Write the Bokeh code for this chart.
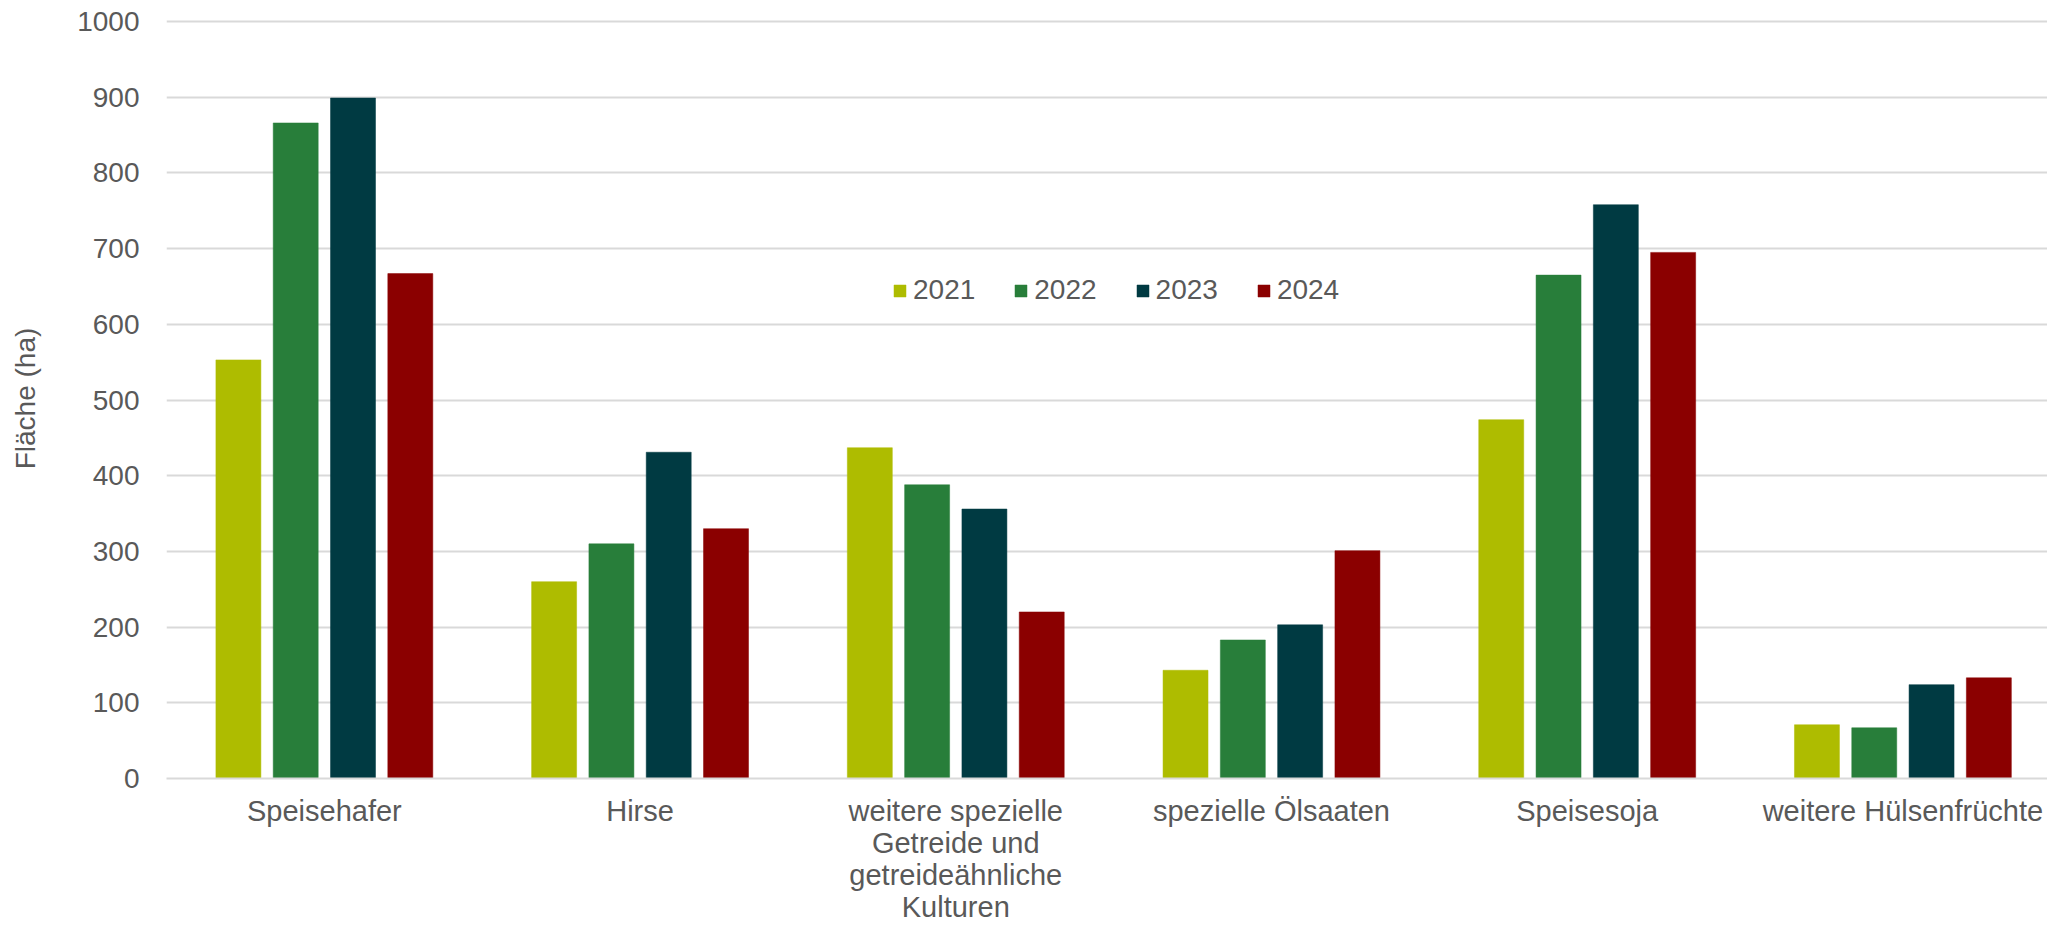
from bokeh.plotting import figure
from bokeh.models import ColumnDataSource, Range1d, FixedTicker, SingleIntervalTicker, Legend, LegendItem
from bokeh.transform import dodge
from bokeh.embed import file_html
from bokeh.resources import INLINE

categories = ["Speisehafer", "Hirse", "weitere spezielle\nGetreide und\ngetreideähnliche\nKulturen",
              "spezielle Ölsaaten", "Speisesoja", "weitere Hülsenfrüchte"]
years = ["2021", "2022", "2023", "2024"]
v2021 = [553, 260, 437, 143, 474, 71]
v2022 = [866, 310, 388, 183, 665, 67]
v2023 = [899, 431, 356, 203, 758, 124]
v2024 = [667, 330, 220, 301, 695, 133]
colors = ["#AEBC00", "#287E3A", "#003A42", "#8B0000"]
y_ticks_max = 1000

FONT = "Liberation Sans"
TXT = "#595959"
GRID = "#D9D9D9"

centers = [i + 0.5 for i in range(len(categories))]
src = ColumnDataSource(dict(x=centers, y2021=v2021, y2022=v2022, y2023=v2023, y2024=v2024))

p = figure(width=2047, height=925, output_backend="svg", toolbar_location=None,
           x_range=Range1d(0, 5.958), y_range=Range1d(0, y_ticks_max + 4))
p.min_border_left = 166
p.min_border_right = 0
p.min_border_top = 18
p.min_border_bottom = 100
p.outline_line_color = None
p.background_fill_color = "white"
p.border_fill_color = "white"

pitch = 0.1815
bw = 0.1425
offsets = [-1.5 * pitch, -0.5 * pitch, 0.5 * pitch, 1.5 * pitch]
fields = ["y2021", "y2022", "y2023", "y2024"]
renderers = []
for f, off, c in zip(fields, offsets, colors):
    r = p.vbar(x=dodge("x", off), top=f, width=bw, bottom=0, source=src,
               fill_color=c, line_color=c, line_width=0.5)
    renderers.append(r)

# axes
p.xaxis.ticker = FixedTicker(ticks=centers)
p.xaxis.major_label_overrides = {c: lab for c, lab in zip(centers, categories)}
p.xaxis.major_tick_line_color = None
p.xaxis.major_tick_out = 0
p.xaxis.major_tick_in = 0
p.xaxis.minor_tick_line_color = None
p.xaxis.minor_tick_out = 0
p.xaxis.axis_line_color = GRID
p.xaxis.axis_line_width = 2
p.xaxis.major_label_text_font = FONT
p.xaxis.major_label_text_font_size = "29px"
p.xaxis.major_label_text_color = TXT
p.xaxis.major_label_text_line_height = 1.0
p.xaxis.major_label_standoff = 16

p.yaxis.ticker = FixedTicker(ticks=list(range(0, y_ticks_max + 1, 100)))
p.yaxis.axis_line_color = None
p.yaxis.major_tick_line_color = None
p.yaxis.major_tick_out = 0
p.yaxis.major_tick_in = 0
p.yaxis.minor_tick_line_color = None
p.yaxis.minor_tick_out = 0
p.yaxis.major_label_text_font = FONT
p.yaxis.major_label_text_font_size = "28px"
p.yaxis.major_label_text_color = TXT
p.yaxis.major_label_standoff = 27
p.yaxis.axis_label = "Fläche (ha)"
p.yaxis.axis_label_text_font = FONT
p.yaxis.axis_label_text_font_size = "28px"
p.yaxis.axis_label_text_font_style = "normal"
p.yaxis.axis_label_text_color = TXT
p.yaxis.axis_label_standoff = 33

p.xgrid.grid_line_color = None
p.ygrid.grid_line_color = GRID
p.ygrid.grid_line_width = 2

legend = Legend(items=[LegendItem(label=y, renderers=[r]) for y, r in zip(years, renderers)],
                orientation="horizontal", location=(726, 472))
legend.glyph_width = 15
legend.glyph_height = 15
legend.label_standoff = 6
legend.spacing = 38
legend.padding = 0
legend.margin = 0
legend.border_line_color = None
legend.background_fill_alpha = 0
legend.label_text_font = FONT
legend.label_text_font_size = "28px"
legend.label_text_color = TXT
p.add_layout(legend, "center")

open("out.html", "w").write(file_html(p, INLINE))
